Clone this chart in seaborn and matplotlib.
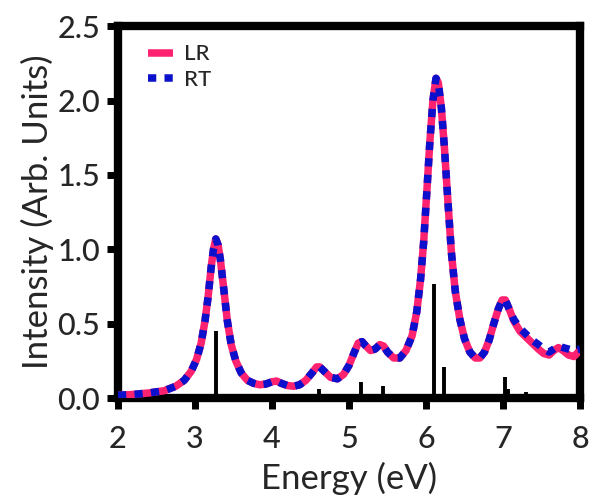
import numpy as np
import pandas as pd
import matplotlib
matplotlib.use("Agg")
import matplotlib.pyplot as plt
import seaborn as sns

# ---- data ----
energy = [2.00, 2.20, 2.40, 2.60, 2.75, 2.86, 2.95, 3.02, 3.08, 3.13, 3.17, 3.21, 3.24, 3.27,
          3.30, 3.33, 3.37, 3.42, 3.47, 3.53, 3.60, 3.68, 3.76, 3.84, 3.92, 4.00, 4.06, 4.12,
          4.20, 4.28, 4.36, 4.44, 4.52, 4.58, 4.62, 4.68, 4.76, 4.85, 4.93, 5.00, 5.07, 5.12,
          5.17, 5.22, 5.28, 5.34, 5.40, 5.45, 5.50, 5.58, 5.66, 5.74, 5.82, 5.88, 5.93, 5.97,
          6.01, 6.05, 6.09, 6.13, 6.16, 6.20, 6.24, 6.28, 6.33, 6.38, 6.44, 6.50, 6.57, 6.64,
          6.70, 6.76, 6.82, 6.88, 6.94, 6.99, 7.03, 7.08, 7.14, 7.22, 7.30, 7.38, 7.46, 7.53,
          7.60, 7.66, 7.72, 7.78, 7.85, 7.92, 8.00]

lr_intensity = [0.02, 0.025, 0.035, 0.05, 0.08, 0.12, 0.18, 0.26, 0.37, 0.52, 0.68, 0.88, 1.00, 1.07,
                1.03, 0.93, 0.75, 0.52, 0.36, 0.25, 0.17, 0.12, 0.10, 0.09, 0.095, 0.11, 0.115, 0.10,
                0.085, 0.08, 0.09, 0.12, 0.17, 0.21, 0.21, 0.18, 0.14, 0.13, 0.16, 0.22, 0.31, 0.37,
                0.38, 0.35, 0.32, 0.33, 0.36, 0.35, 0.31, 0.27, 0.27, 0.32, 0.42, 0.58, 0.80, 1.05,
                1.38, 1.72, 2.00, 2.15, 2.12, 1.95, 1.68, 1.36, 0.98, 0.72, 0.53, 0.40, 0.31, 0.27,
                0.27, 0.31, 0.39, 0.50, 0.60, 0.66, 0.66, 0.60, 0.52, 0.45, 0.41, 0.37, 0.33, 0.30,
                0.29, 0.32, 0.34, 0.32, 0.29, 0.28, 0.32]

rt_intensity = [0.02, 0.025, 0.035, 0.05, 0.08, 0.12, 0.18, 0.26, 0.37, 0.52, 0.68, 0.88, 1.00, 1.07,
                1.03, 0.93, 0.75, 0.52, 0.36, 0.25, 0.17, 0.12, 0.10, 0.09, 0.095, 0.11, 0.115, 0.10,
                0.085, 0.08, 0.09, 0.12, 0.17, 0.21, 0.21, 0.18, 0.14, 0.13, 0.16, 0.22, 0.31, 0.37,
                0.38, 0.35, 0.32, 0.33, 0.36, 0.35, 0.31, 0.27, 0.27, 0.32, 0.42, 0.58, 0.80, 1.05,
                1.38, 1.72, 2.00, 2.15, 2.12, 1.95, 1.68, 1.36, 0.98, 0.72, 0.53, 0.40, 0.31, 0.27,
                0.27, 0.31, 0.39, 0.50, 0.60, 0.66, 0.66, 0.60, 0.53, 0.47, 0.43, 0.39, 0.36, 0.33,
                0.31, 0.33, 0.35, 0.34, 0.33, 0.32, 0.33]

stick_energy = [3.27, 4.06, 4.61, 5.15, 5.44, 6.11, 6.24, 7.02, 7.07, 7.30, 7.47, 7.74]
stick_strength = [0.45, 0.01, 0.06, 0.11, 0.08, 0.77, 0.21, 0.14, 0.06, 0.04, 0.025, 0.025]

x_ticks = [2, 3, 4, 5, 6, 7, 8]
y_ticks = [0.0, 0.5, 1.0, 1.5, 2.0, 2.5]
y_tick_labels = ["0.0", "0.5", "1.0", "1.5", "2.0", "2.5"]

# ---- figure ----
sns.set_style("white")
plt.rcParams['font.family'] = ['Lato', 'DejaVu Sans']
plt.rcParams['font.weight'] = 500

fig = plt.figure(figsize=(5.9, 5.04), dpi=100)
ax = fig.add_axes([0.2, 0.21, 0.783, 0.738])

df = pd.DataFrame({"Energy": energy, "LR": lr_intensity, "RT": rt_intensity})

ax.vlines(stick_energy, 0, stick_strength, color="black", linewidth=2.8, zorder=2)

sns.lineplot(data=df, x="Energy", y="LR", ax=ax, color="#FF2270", linewidth=5.4,
             label="LR", zorder=3, solid_capstyle="butt")
sns.lineplot(data=df, x="Energy", y="RT", ax=ax, color="#0A10CC", linewidth=5.4,
             linestyle=(0, (1.1, 1.1)), dash_capstyle="butt", label="RT", zorder=4)

ax.set_xlim(2, 8)
ax.set_ylim(0, 2.5)
ax.set_xticks(x_ticks)
ax.set_xticklabels([str(t) for t in x_ticks])
ax.set_yticks(y_ticks)
ax.set_yticklabels(y_tick_labels)

for s in ax.spines.values():
    s.set_linewidth(6)
    s.set_color("black")
    s.set_visible(True)

ax.tick_params(axis="both", direction="out", length=8, width=5, color="black",
               labelsize=22, pad=5, bottom=True, left=True)
ax.tick_params(axis="x", pad=11)
ax.set_xlabel("Energy (eV)", fontsize=25, labelpad=7)
ax.set_ylabel("Intensity (Arb. Units)", fontsize=25, labelpad=2)

leg = ax.legend(loc="upper left", frameon=False, fontsize=16, handlelength=1.15,
                handletextpad=0.5, labelspacing=0.25, borderaxespad=0.0,
                bbox_to_anchor=(0.045, 0.975))

fig.savefig("out.png", dpi=100)
